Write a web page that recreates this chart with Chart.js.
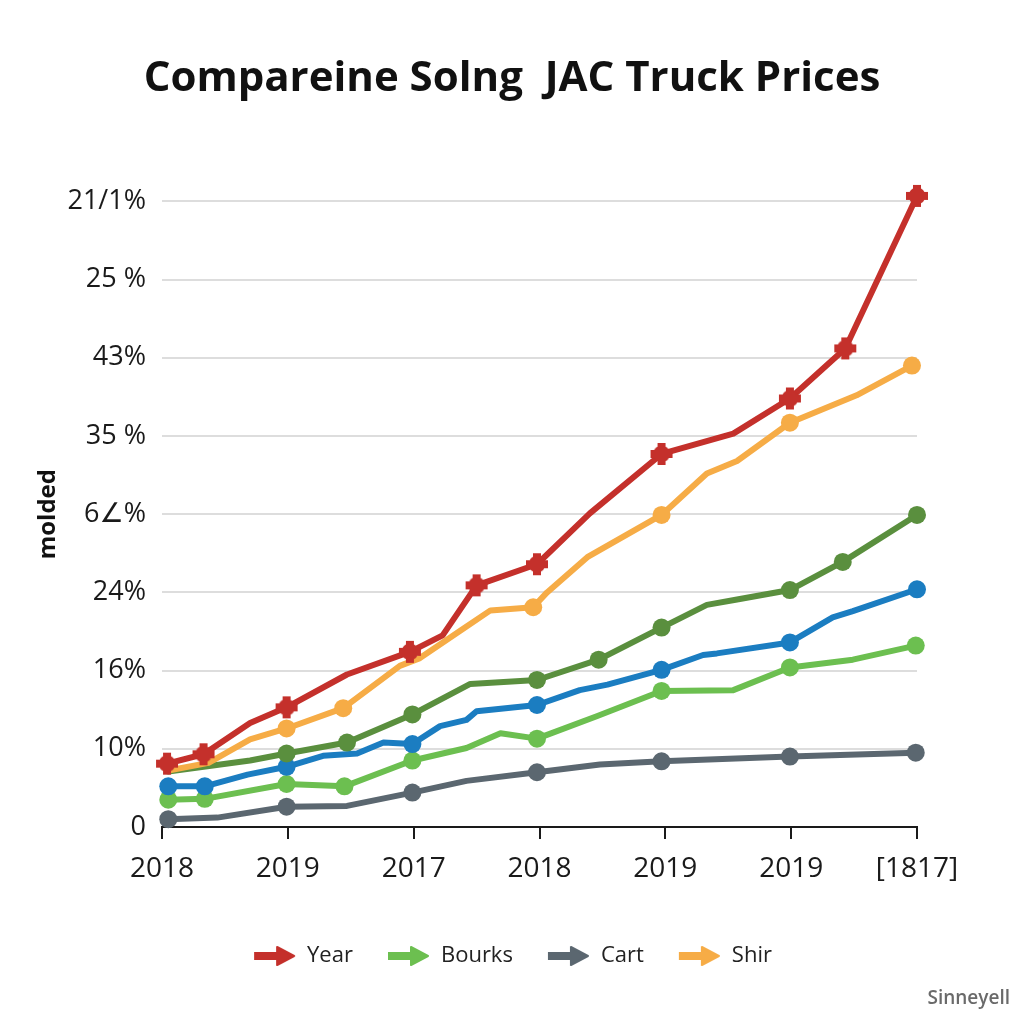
<!DOCTYPE html>
<html>
<head>
<meta charset="utf-8">
<script src="https://cdn.jsdelivr.net/npm/chart.js@4/dist/chart.umd.min.js"></script>
<style>
  html, body { margin: 0; padding: 0; background: #ffffff; }
  #wrap { width: 1024px; height: 1024px; }
</style>
</head>
<body>
<div id="wrap"><canvas id="c" width="1024" height="1024"></canvas></div>
<script>
// ---- data ----
const chartTitle = 'Compareine Solng  JAC Truck Prices';
const yAxisTitle = 'molded';
const xLabels = ['2018', '2019', '2017', '2018', '2019', '2019', '[1817]'];
const yLabels = ['0', '10%', '16%', '24%', '6\u2220%', '35 %', '43%', '25 %', '21/1%'];
const legendOrder = ['Year', 'Bourks', 'Cart', 'Shir'];
const watermark = 'Sinneyell';

const yearX = [0.04, 0.33, 0.70, 0.99, 1.47, 1.97, 2.23, 2.50, 2.98, 3.40, 3.97, 4.54, 4.99, 5.43, 6.00];
const yearY = [0.81, 0.93, 1.33, 1.53, 1.95, 2.24, 2.45, 3.09, 3.36, 4.01, 4.77, 5.03, 5.48, 6.12, 8.07];
const yearMarks = [0, 1, 3, 5, 7, 8, 10, 12, 13, 14];

const shirX = [0.04, 0.37, 0.70, 0.99, 1.44, 1.89, 2.05, 2.37, 2.61, 2.95, 3.06, 3.38, 3.97, 4.33, 4.57, 4.99, 5.52, 5.96];
const shirY = [0.72, 0.82, 1.12, 1.26, 1.52, 2.06, 2.16, 2.51, 2.77, 2.81, 3.00, 3.45, 3.99, 4.52, 4.68, 5.17, 5.52, 5.90];
const shirMarks = [3, 4, 9, 12, 15, 17];

const greenX = [0.05, 0.70, 0.99, 1.47, 1.99, 2.45, 2.98, 3.47, 3.97, 4.33, 4.57, 4.99, 5.41, 6.00];
const greenY = [0.71, 0.85, 0.94, 1.08, 1.44, 1.83, 1.88, 2.14, 2.55, 2.84, 2.91, 3.03, 3.39, 3.99];
const greenMarks = [2, 3, 4, 6, 7, 8, 11, 12, 13];

const blueX = [0.05, 0.34, 0.68, 0.99, 1.28, 1.55, 1.76, 1.99, 2.21, 2.42, 2.50, 2.98, 3.32, 3.54, 3.97, 4.30, 4.41, 4.99, 5.33, 5.49, 6.00];
const blueY = [0.52, 0.52, 0.67, 0.77, 0.91, 0.94, 1.08, 1.06, 1.29, 1.37, 1.48, 1.56, 1.75, 1.82, 2.01, 2.20, 2.22, 2.36, 2.68, 2.76, 3.04];
const blueMarks = [0, 1, 3, 7, 11, 14, 17, 20];

const bourksX = [0.05, 0.34, 0.99, 1.45, 1.99, 2.42, 2.69, 2.98, 3.46, 3.97, 4.54, 4.99, 5.49, 5.99];
const bourksY = [0.35, 0.36, 0.55, 0.52, 0.85, 1.01, 1.20, 1.13, 1.42, 1.74, 1.75, 2.04, 2.14, 2.32];
const bourksMarks = [0, 1, 2, 3, 4, 7, 9, 11, 13];

const cartX = [0.05, 0.44, 0.99, 1.47, 1.99, 2.42, 2.98, 3.48, 3.97, 4.99, 5.99];
const cartY = [0.10, 0.12, 0.26, 0.27, 0.44, 0.59, 0.70, 0.80, 0.84, 0.90, 0.95];
const cartMarks = [0, 2, 4, 6, 8, 9, 10];

// ---- styles ----
const FONT = "'Open Sans', 'DejaVu Sans', sans-serif";
const C_RED = '#c4302b', C_ORANGE = '#f6ac46', C_DGREEN = '#5a8f3e',
      C_BLUE = '#1b7dc1', C_LGREEN = '#6cbf50', C_GRAY = '#5b6770';

function arrowIcon(color) {
  const cv = document.createElement('canvas');
  cv.width = 44; cv.height = 22;
  const g = cv.getContext('2d');
  g.fillStyle = color;
  g.strokeStyle = color;
  g.lineJoin = 'round';
  g.lineWidth = 2;
  g.fillRect(2, 7, 26, 8);
  g.beginPath();
  g.moveTo(25, 2); g.lineTo(42, 11); g.lineTo(25, 20); g.closePath();
  g.fill(); g.stroke();
  return cv;
}
function crossMarker(color) {
  const cv = document.createElement('canvas');
  cv.width = 24; cv.height = 24;
  const g = cv.getContext('2d');
  g.fillStyle = color;
  g.beginPath(); g.arc(12, 12, 8.5, 0, Math.PI * 2); g.fill();
  g.fillRect(8, 1, 8, 22);
  g.fillRect(1, 8, 22, 8);
  return cv;
}
const arrows = { Year: arrowIcon(C_RED), Bourks: arrowIcon(C_LGREEN), Cart: arrowIcon(C_GRAY), Shir: arrowIcon(C_ORANGE) };
const redCross = crossMarker(C_RED);

function series(label, xs, ys, marks, color, style) {
  return {
    label: label,
    data: xs.map((x, i) => ({ x: x, y: ys[i] })),
    borderColor: color,
    backgroundColor: color,
    borderWidth: 6,
    borderJoinStyle: 'round',
    borderCapStyle: 'round',
    tension: 0,
    fill: false,
    clip: false,
    pointStyle: style || 'circle',
    pointBackgroundColor: color,
    pointBorderColor: color,
    pointBorderWidth: 0,
    pointRadius: (ctx) => marks.includes(ctx.dataIndex) ? 9 : 0,
    pointHoverRadius: (ctx) => marks.includes(ctx.dataIndex) ? 9 : 0
  };
}

const datasets = [
  series('Year', yearX, yearY, yearMarks, C_RED, redCross),
  series('Shir', shirX, shirY, shirMarks, C_ORANGE),
  series('', greenX, greenY, greenMarks, C_DGREEN),
  series(' ', blueX, blueY, blueMarks, C_BLUE),
  series('Bourks', bourksX, bourksY, bourksMarks, C_LGREEN),
  series('Cart', cartX, cartY, cartMarks, C_GRAY)
];

const watermarkPlugin = {
  id: 'watermark',
  afterDraw(chart) {
    const ctx = chart.ctx;
    ctx.save();
    ctx.font = "600 19px " + FONT;
    ctx.fillStyle = '#6a6a6a';
    ctx.textAlign = 'right';
    ctx.textBaseline = 'alphabetic';
    ctx.fillText(watermark, 1010, 1004);
    ctx.restore();
  }
};

new Chart(document.getElementById('c'), {
  type: 'line',
  data: { datasets: datasets },
  plugins: [watermarkPlugin],
  options: {
    responsive: false,
    devicePixelRatio: 1,
    animation: false,
    events: [],
    layout: { padding: { left: 0, right: 0, top: 0, bottom: 47 } },
    plugins: {
      title: {
        display: true,
        text: chartTitle,
        color: '#111111',
        font: { family: FONT, size: 42, weight: 'bold' },
        padding: { top: 54, bottom: 97 }
      },
      legend: {
        display: true,
        position: 'bottom',
        labels: {
          usePointStyle: true,
          pointStyleWidth: 44,
          boxHeight: 22,
          padding: 33,
          color: '#222222',
          font: { family: FONT, size: 22 },
          generateLabels(chart) {
            const items = Chart.defaults.plugins.legend.labels.generateLabels(chart);
            return items
              .filter(it => legendOrder.includes(it.text))
              .sort((a, b) => legendOrder.indexOf(a.text) - legendOrder.indexOf(b.text))
              .map(it => Object.assign(it, { pointStyle: arrows[it.text], lineWidth: 0 }));
          }
        }
      },
      tooltip: { enabled: false }
    },
    scales: {
      x: {
        type: 'linear',
        min: 0,
        max: 6,
        afterFit(scale) { scale.height = 85; },
        afterBuildTicks(scale) { scale.ticks = xLabels.map((_, i) => ({ value: i })); },
        ticks: {
          autoSkip: false,
          maxRotation: 0,
          padding: 13,
          color: '#1a1a1a',
          font: { family: FONT, size: 28 },
          callback: (v) => xLabels[v]
        },
        grid: {
          drawOnChartArea: false,
          drawTicks: true,
          tickLength: 12,
          color: '#1a1a1a',
          lineWidth: 2
        },
        border: { display: true, color: '#1a1a1a', width: 2 }
      },
      y: {
        type: 'linear',
        position: 'left',
        min: 0,
        max: 8,
        afterFit(scale) { scale.width = 162; },
        afterBuildTicks(scale) { scale.ticks = yLabels.map((_, i) => ({ value: i })); },
        ticks: {
          padding: 16,
          color: '#1a1a1a',
          font: { family: FONT, size: 27 },
          callback: (v) => yLabels[v]
        },
        grid: { color: '#dddddd', lineWidth: 2, drawTicks: false },
        border: { display: false },
        title: {
          display: true,
          text: yAxisTitle,
          color: '#111111',
          font: { family: FONT, size: 24, weight: 'bold' },
          padding: { top: 34, bottom: 0 }
        }
      },
      yRight: {
        type: 'linear',
        position: 'right',
        display: true,
        min: 0,
        max: 8,
        afterFit(scale) { scale.width = 107; },
        ticks: { display: false },
        grid: { display: false, drawTicks: false },
        border: { display: false }
      }
    }
  }
});
</script>
</body>
</html>
